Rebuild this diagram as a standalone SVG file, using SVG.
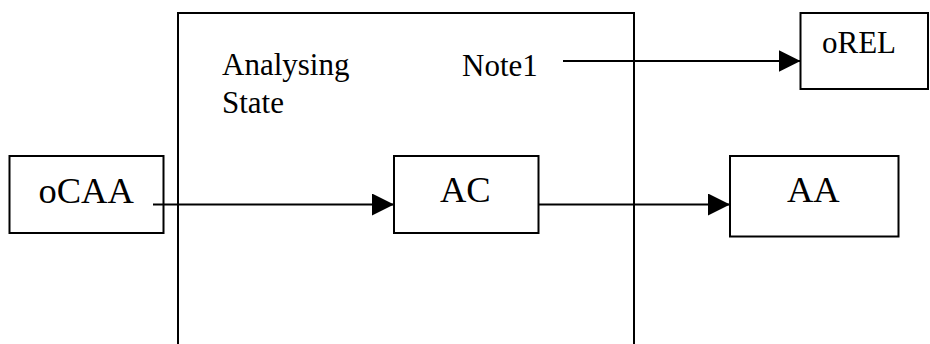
<svg xmlns="http://www.w3.org/2000/svg" width="930" height="344" viewBox="0 0 930 344">
<style>
.box{fill:#fff;stroke:#000;stroke-width:2}
.frame{fill:none;stroke:#000;stroke-width:2}
.conn{fill:none;stroke:#000;stroke-width:2}
.lbl{font-family:"Liberation Serif","Times New Roman",serif;fill:#000}
.big{font-size:36.5px}
.small{font-size:31px}
</style>
<defs>
<marker id="arr" markerUnits="userSpaceOnUse" markerWidth="22" markerHeight="22" viewBox="0 0 20 20" refX="20" refY="10" orient="auto">
<path d="M0,0 L20,10 L0,20 Z" fill="#000"/>
</marker>
</defs>
<g id="analysing-state">
<rect class="frame" x="178" y="13" width="456" height="345"/>
<text class="lbl small" x="222" y="75">Analysing</text>
<text class="lbl small" x="222" y="113">State</text>
<text class="lbl small" x="462" y="76">Note1</text>
</g>
<g id="oCAA">
<rect class="box" x="9.5" y="156" width="154" height="77"/>
<text class="lbl big" x="38.5" y="203">oCAA</text>
</g>
<g id="AC">
<rect class="box" x="394" y="156" width="144.5" height="77"/>
<text class="lbl big" x="440" y="202">AC</text>
</g>
<g id="AA">
<rect class="box" x="730" y="156" width="168.5" height="80.5"/>
<text class="lbl big" x="787" y="202">AA</text>
</g>
<g id="oREL">
<rect class="box" x="800.5" y="13" width="127.5" height="76"/>
<text class="lbl small" x="822" y="52.5">oREL</text>
</g>
<g id="connectors">
<line class="conn" x1="153" y1="204.5" x2="394" y2="204.5" marker-end="url(#arr)"/>
<line class="conn" x1="538.5" y1="204.5" x2="730" y2="204.5" marker-end="url(#arr)"/>
<line class="conn" x1="563" y1="61" x2="800.5" y2="61" marker-end="url(#arr)"/>
</g>
</svg>
